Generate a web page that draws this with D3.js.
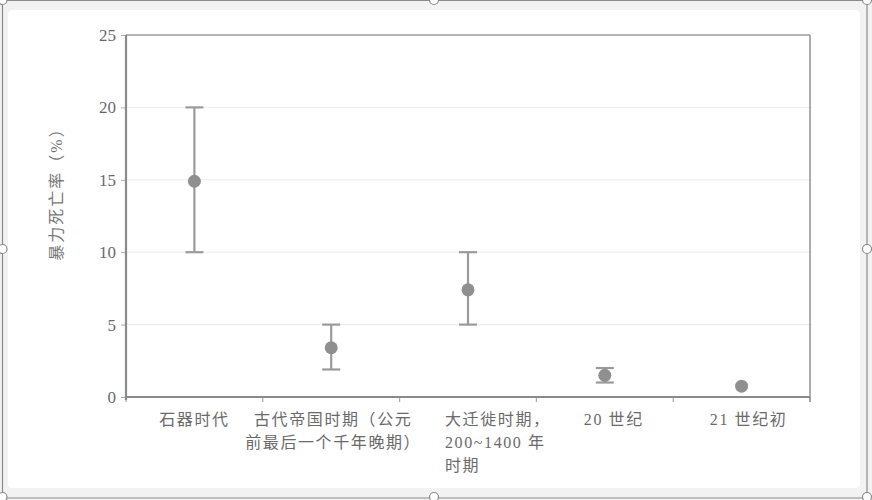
<!DOCTYPE html>
<html>
<head>
<meta charset="utf-8">
<script src="https://cdn.jsdelivr.net/npm/d3@7"></script>
<style>
  html, body { margin: 0; padding: 0; background: #f2f2f2; }
  svg { display: block; }
</style>
</head>
<body>
<svg id="chart" width="872" height="500"></svg>
<script>
// ---- data ----
const categories = [
  "石器时代",
  "古代帝国时期（公元\n前最后一个千年晚期）",
  "大迁徙时期，\n200~1400 年\n时期",
  "20 世纪",
  "21 世纪初"
];
const values = [14.9, 3.4, 7.4, 1.5, 0.75];
const lows   = [10, 1.9, 5, 1, null];
const highs  = [20, 5, 10, 2, null];
const yTicks = [0, 5, 10, 15, 20, 25];
const yTitle = "暴力死亡率（%）";

// ---- layout ----
const svg = d3.select("#chart");
const W = 872, H = 500;
const plot = { left: 126, right: 810, top: 35, bottom: 397 };
const grey = "#8f8f8f";
const textCol = "#6a6a6a";
const fontFam = "'Liberation Serif', 'Noto Sans CJK SC', serif";

// page frame (screenshot look)
svg.append("rect").attr("x", 0).attr("y", 0).attr("width", W).attr("height", H).attr("fill", "#f2f2f2");
svg.append("rect").attr("x", 8).attr("y", 10).attr("width", 852).attr("height", 478)
  .attr("rx", 4).attr("fill", "#ffffff");

const x = d3.scaleBand().domain(categories).range([plot.left, plot.right]).padding(0);
const y = d3.scaleLinear().domain([0, 25]).range([plot.bottom, plot.top]);

// gridlines
svg.append("g").selectAll("line").data(yTicks.filter(d => d > 0 && d < 25)).join("line")
  .attr("x1", plot.left).attr("x2", plot.right + 2)
  .attr("y1", d => y(d)).attr("y2", d => y(d))
  .attr("stroke", "#ebebeb").attr("stroke-width", 1);

// y axis
const yAxis = svg.append("g").attr("transform", `translate(${plot.left},0)`)
  .call(d3.axisLeft(y).tickValues(yTicks).tickSize(5).tickPadding(5));
yAxis.select(".domain").remove();
yAxis.selectAll(".tick line").attr("stroke", "#aaaaaa");
yAxis.selectAll(".tick text").attr("fill", textCol)
  .style("font-family", fontFam).style("font-size", "17px");

// x axis ticks (band boundaries)
const boundaries = categories.map(c => x(c)).concat([plot.right]);
svg.append("g").selectAll("line").data(boundaries).join("line")
  .attr("x1", d => d).attr("x2", d => d)
  .attr("y1", plot.bottom).attr("y2", plot.bottom + 5)
  .attr("stroke", "#aaaaaa").attr("stroke-width", 1.2);

// plot frame
svg.append("line").attr("x1", plot.left).attr("x2", plot.right).attr("y1", plot.top).attr("y2", plot.top)
  .attr("stroke", "#999").attr("stroke-width", 1.6);
svg.append("line").attr("x1", plot.right).attr("x2", plot.right).attr("y1", plot.top).attr("y2", plot.bottom + 5)
  .attr("stroke", "#999").attr("stroke-width", 1.6);
svg.append("line").attr("x1", plot.left).attr("x2", plot.left).attr("y1", plot.top).attr("y2", plot.bottom + 3)
  .attr("stroke", "#8a8a8a").attr("stroke-width", 2.2);
svg.append("line").attr("x1", plot.left).attr("x2", plot.right).attr("y1", plot.bottom).attr("y2", plot.bottom)
  .attr("stroke", "#8a8a8a").attr("stroke-width", 2.2);

// x labels
const labelDx = [0, 2, -23, 9, 7];
const labelAnchor = ["middle", "middle", "start", "middle", "middle"];
const xl = svg.append("g");
categories.forEach((c, i) => {
  const lines = c.split("\n");
  const cx = x(c) + x.bandwidth() / 2 + labelDx[i];
  const t = xl.append("text")
    .attr("x", cx).attr("y", 425)
    .attr("text-anchor", labelAnchor[i])
    .attr("fill", textCol)
    .style("font-family", fontFam).style("font-size", "16px").style("letter-spacing", "1.6px");
  lines.forEach((ln, j) => {
    t.append("tspan").attr("x", cx).attr("dy", j === 0 ? 0 : 23).text(ln);
  });
});

// y title
svg.append("text")
  .attr("transform", "translate(62,190) rotate(-90)")
  .attr("text-anchor", "middle")
  .attr("fill", "#777777")
  .style("font-family", fontFam).style("font-size", "16px").style("letter-spacing", "2px")
  .text(yTitle);

// error bars
const idx = d3.range(categories.length);
const cap = 9;
const eb = svg.append("g").attr("stroke", "#9a9a9a").attr("stroke-width", 2.2);
idx.filter(i => lows[i] != null).forEach(i => {
  const cx = x(categories[i]) + x.bandwidth() / 2;
  eb.append("line").attr("x1", cx).attr("x2", cx).attr("y1", y(highs[i])).attr("y2", y(lows[i]));
  eb.append("line").attr("x1", cx - cap).attr("x2", cx + cap).attr("y1", y(highs[i])).attr("y2", y(highs[i]));
  eb.append("line").attr("x1", cx - cap).attr("x2", cx + cap).attr("y1", y(lows[i])).attr("y2", y(lows[i]));
});

// points
svg.append("g").selectAll("circle").data(idx).join("circle")
  .attr("cx", i => x(categories[i]) + x.bandwidth() / 2)
  .attr("cy", i => y(values[i]))
  .attr("r", 6.5)
  .attr("fill", grey);

// selection frame with handles
const sel = svg.append("g").attr("stroke", "#8a8a8a").attr("fill", "none").attr("stroke-width", 1.2);
sel.append("line").attr("x1", 2.5).attr("x2", 2.5).attr("y1", 0).attr("y2", 498);
sel.append("line").attr("x1", 867).attr("x2", 867).attr("y1", 0).attr("y2", 498);
sel.append("line").attr("x1", 2.5).attr("x2", 867).attr("y1", 498).attr("y2", 498);
sel.append("line").attr("x1", 2.5).attr("x2", 867).attr("y1", 0.5).attr("y2", 0.5);
const handles = [[2.5, 0], [434, 0], [867, 0], [2.5, 249], [867, 249], [2.5, 497], [434, 497], [867, 497]];
sel.selectAll("circle").data(handles).join("circle")
  .attr("cx", d => d[0]).attr("cy", d => d[1]).attr("r", 4.5)
  .attr("fill", "#ffffff");
</script>
</body>
</html>
